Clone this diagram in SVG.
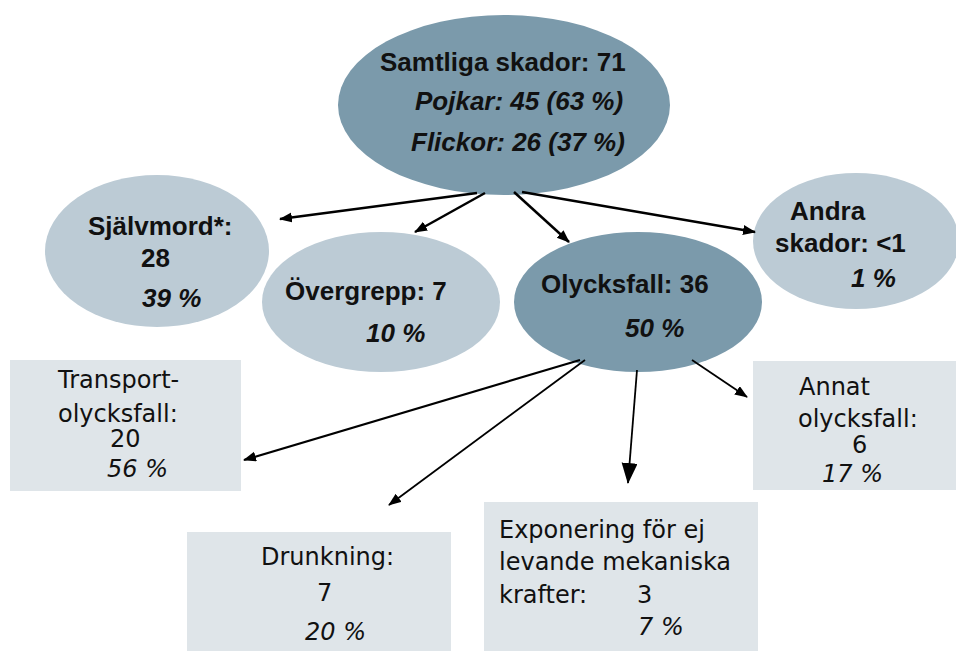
<svg xmlns="http://www.w3.org/2000/svg" width="956" height="651" viewBox="0 0 956 651">
<defs>
<style>
.dark{fill:#7b9aab}
.light{fill:#bccbd5}
.box{fill:#dfe5e9}
.b{font-family:"Liberation Sans",Arial,sans-serif;font-weight:bold;font-size:26px;fill:#111}
.bi{font-family:"Liberation Sans",Arial,sans-serif;font-weight:bold;font-style:italic;font-size:26px;fill:#111}
.r{font-family:"DejaVu Sans",Verdana,sans-serif;font-size:24px;fill:#111}
.ri{font-family:"DejaVu Sans",Verdana,sans-serif;font-style:italic;font-size:24px;fill:#111}
.c{stroke:#000;fill:none}
</style>
<marker id="ah" markerUnits="userSpaceOnUse" markerWidth="14" markerHeight="12" refX="12" refY="5" orient="auto"><path d="M0,0 L13,5 L0,10 Z" fill="#000"/></marker>
<marker id="ahb" markerUnits="userSpaceOnUse" markerWidth="22" markerHeight="18" refX="20" refY="8" orient="auto"><path d="M0,0 L21,8 L0,16 Z" fill="#000"/></marker>
</defs>
<g id="n-samtliga">
<ellipse class="dark" cx="504" cy="105" rx="166" ry="90"/>
<text class="b" x="380" y="71">Samtliga skador: 71</text>
<text class="bi" x="415" y="110">Pojkar: 45 (63 %)</text>
<text class="bi" x="411" y="151">Flickor: 26 (37 %)</text>
</g>
<g id="n-sjalvmord">
<ellipse class="light" cx="157" cy="251" rx="112" ry="76"/>
<text class="b" x="88" y="235">Självmord*:</text>
<text class="b" x="141" y="267">28</text>
<text class="bi" x="142" y="307">39 %</text>
</g>
<g id="n-overgrepp">
<ellipse class="light" cx="381" cy="302" rx="119" ry="70"/>
<text class="b" x="285" y="300">Övergrepp: 7</text>
<text class="bi" x="366" y="342">10 %</text>
</g>
<g id="n-olycksfall">
<ellipse class="dark" cx="638" cy="302" rx="124" ry="70"/>
<text class="b" x="541" y="293">Olycksfall: 36</text>
<text class="bi" x="625" y="337">50 %</text>
</g>
<g id="n-andra">
<ellipse class="light" cx="856" cy="241" rx="103" ry="68"/>
<text class="b" x="790" y="220">Andra</text>
<text class="b" x="775" y="252">skador: &lt;1</text>
<text class="bi" x="851" y="287">1 %</text>
</g>
<g id="n-transport">
<rect class="box" x="10" y="360" width="231" height="131"/>
<text class="r" x="58" y="388">Transport-</text>
<text class="r" x="58" y="422">olycksfall:</text>
<text class="r" x="110" y="447">20</text>
<text class="ri" x="107" y="477">56 %</text>
</g>
<g id="n-drunkning">
<rect class="box" x="187" y="532" width="264" height="119"/>
<text class="r" x="261" y="565">Drunkning:</text>
<text class="r" x="317" y="601">7</text>
<text class="ri" x="305" y="640">20 %</text>
</g>
<g id="n-exponering">
<rect class="box" x="484" y="502" width="274" height="149"/>
<text class="r" x="499" y="538">Exponering för ej</text>
<text class="r" x="499" y="570">levande mekaniska</text>
<text class="r" x="499" y="603">krafter:</text>
<text class="r" x="637" y="603">3</text>
<text class="ri" x="638" y="635">7 %</text>
</g>
<g id="n-annat">
<rect class="box" x="753" y="361" width="203" height="129"/>
<text class="r" x="799" y="395">Annat</text>
<text class="r" x="798" y="427">olycksfall:</text>
<text class="r" x="852" y="453">6</text>
<text class="ri" x="822" y="482">17 %</text>
</g>
<g id="connectors">
<line class="c" stroke-width="2.5" x1="477" y1="193" x2="280" y2="219" marker-end="url(#ah)"/>
<line class="c" stroke-width="2.5" x1="485" y1="193" x2="415" y2="232" marker-end="url(#ah)"/>
<line class="c" stroke-width="2.5" x1="514" y1="192" x2="569" y2="242" marker-end="url(#ah)"/>
<line class="c" stroke-width="2.5" x1="522" y1="192" x2="755" y2="232" marker-end="url(#ah)"/>
<line class="c" stroke-width="2.2" x1="580" y1="360" x2="244" y2="460" marker-end="url(#ah)"/>
<line class="c" stroke-width="1.8" x1="585" y1="360" x2="389" y2="505" marker-end="url(#ah)"/>
<line class="c" stroke-width="1.8" x1="637" y1="370" x2="628" y2="483" marker-end="url(#ahb)"/>
<line class="c" stroke-width="1.8" x1="692" y1="360" x2="747" y2="397" marker-end="url(#ah)"/>
</g>
</svg>
